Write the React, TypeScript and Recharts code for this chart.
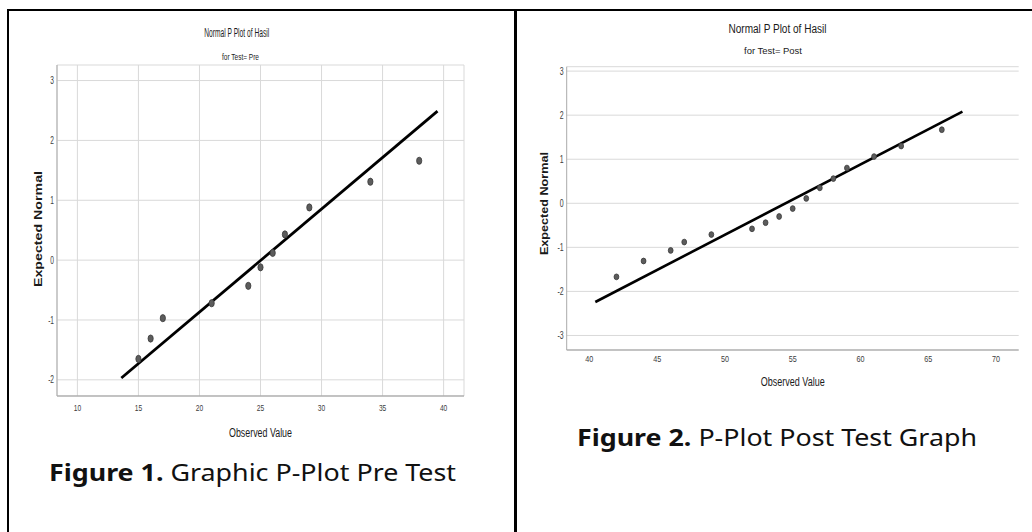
import React from 'react'
import {
  ScatterChart,
  Scatter,
  XAxis,
  YAxis,
  CartesianGrid,
  ReferenceLine,
} from 'recharts'

// pre test: observed value vs expected normal
const preObserved = [15, 16, 17, 21, 24, 25, 26, 27, 29, 34, 38]
const preExpected = [-1.65, -1.31, -0.97, -0.72, -0.43, -0.12, 0.12, 0.43, 0.88, 1.31, 1.66]
const preLineX = [13.6, 39.5]
const preLineY = [-1.97, 2.49]
const preXTicks = [10, 15, 20, 25, 30, 35, 40]
const preYTicks = [-2, -1, 0, 1, 2, 3]

// post test
const postObserved = [42, 44, 46, 47, 49, 52, 53, 54, 55, 56, 57, 58, 59, 61, 63, 66]
const postExpected = [-1.67, -1.31, -1.07, -0.88, -0.71, -0.58, -0.44, -0.3, -0.12, 0.11, 0.35, 0.56, 0.8, 1.06, 1.3, 1.67]
const postLineX = [40.44, 67.52]
const postLineY = [-2.24, 2.08]
const postXTicks = [40, 45, 50, 55, 60, 65, 70]
const postYTicks = [-3, -2, -1, 0, 1, 2, 3]

const NARROW = '"Liberation Sans Narrow", "Liberation Sans", Arial, sans-serif'
const SANS = '"Liberation Sans", Arial, sans-serif'

function XTick({ x, y, payload, size, sx, dy }: any) {
  return (
    <text
      transform={`translate(${x},${y + dy}) scale(${sx},1)`}
      textAnchor="middle"
      dominantBaseline="central"
      fontFamily={NARROW}
      fontSize={size}
      fill="#3c3c3c"
    >
      {payload.value}
    </text>
  )
}

function YTick({ x, y, payload, size, sx }: any) {
  return (
    <text
      transform={`translate(${x - 3},${y}) scale(${sx},1)`}
      textAnchor="end"
      dominantBaseline="central"
      fontFamily={NARROW}
      fontSize={size}
      fill="#3c3c3c"
    >
      {payload.value}
    </text>
  )
}

function XTitle({ viewBox, text, dy, len }: any) {
  const { x, y, width } = viewBox
  return (
    <text
      x={x + width / 2}
      y={y + dy}
      textAnchor="middle"
      dominantBaseline="central"
      textLength={len}
      lengthAdjust="spacingAndGlyphs"
      fontFamily={SANS}
      fontSize={12}
      fill="#1a1a1a"
    >
      {text}
    </text>
  )
}

function YTitle({ viewBox, text, dx, dy, len }: any) {
  const { x, y, width, height } = viewBox
  const cx = x + width + dx
  const cy = y + height / 2 + dy
  return (
    <text
      transform={`translate(${cx},${cy}) rotate(-90)`}
      textAnchor="middle"
      dominantBaseline="central"
      textLength={len}
      lengthAdjust="spacingAndGlyphs"
      fontFamily={SANS}
      fontWeight="bold"
      fontSize={11.5}
      fill="#1a1a1a"
    >
      {text}
    </text>
  )
}

function Dot({ cx, cy, rx, ry }: any) {
  return <ellipse cx={cx} cy={cy} rx={rx} ry={ry} fill="#5c5c5c" stroke="#3a3a3a" strokeWidth={0.8} />
}

function FitText({ x, y, len, size, children }: any) {
  return (
    <text
      x={x}
      y={y}
      textAnchor="middle"
      dominantBaseline="central"
      textLength={len}
      lengthAdjust="spacingAndGlyphs"
      fontFamily={SANS}
      fontSize={size}
      fill="#1a1a1a"
    >
      {children}
    </text>
  )
}

function Caption({ x, y, len, bold, rest }: any) {
  return (
    <text
      x={x}
      y={y}
      textLength={len}
      lengthAdjust="spacingAndGlyphs"
      fontFamily='"Noto Sans", sans-serif'
      fontSize={23}
      fill="#111"
    >
      <tspan fontWeight="bold">{bold}</tspan>
      <tspan> {rest}</tspan>
    </text>
  )
}

const line = (left: number, top: number, width: number, height: number) => (
  <div style={{ position: 'absolute', left, top, width, height, background: '#000', zIndex: 2 }} />
)

export default function App() {
  const preData = preObserved.map((v, i) => ({ x: v, y: preExpected[i] }))
  const postData = postObserved.map((v, i) => ({ x: v, y: postExpected[i] }))

  return (
    <div
      style={{
        position: 'absolute',
        left: 0,
        top: 0,
        width: 1032,
        height: 532,
        background: '#fff',
        overflow: 'hidden',
      }}
    >
      {/* Pre */}
      <div style={{ position: 'absolute', left: 0, top: 0 }}>
        <ScatterChart width={516} height={460} margin={{ top: 65, right: 52, bottom: 34, left: 27 }}>
          <CartesianGrid stroke="#d9d9d9" />
          <XAxis
            type="number"
            dataKey="x"
            domain={[8.33, 41.67]}
            ticks={preXTicks}
            allowDataOverflow
            height={30}
            tickSize={0}
            tickMargin={0}
            axisLine={{ stroke: '#999' }}
            tickLine={false}
            tick={<XTick size={9.5} sx={0.7} dy={12} />}
            label={<XTitle text="Observed Value" dy={37} len={63} />}
          />
          <YAxis
            type="number"
            dataKey="y"
            domain={[-2.27, 3.26]}
            ticks={preYTicks}
            allowDataOverflow
            width={30}
            tickSize={0}
            tickMargin={0}
            axisLine={{ stroke: '#aaa' }}
            tickLine={false}
            tick={<YTick size={11} sx={0.6} />}
            label={<YTitle text="Expected Normal" dx={-19} dy={-1.5} len={116} />}
          />
          <Scatter data={preData} isAnimationActive={false} shape={<Dot rx={2.6} ry={3.6} />} />
          <ReferenceLine
            segment={[
              { x: preLineX[0], y: preLineY[0] },
              { x: preLineX[1], y: preLineY[1] },
            ]}
            stroke="#000"
            strokeWidth={2.8}
          />
        </ScatterChart>
      </div>

      {/* Post */}
      <div style={{ position: 'absolute', left: 516, top: 0 }}>
        <ScatterChart width={516} height={420} margin={{ top: 66.7, right: 13.3, bottom: 40, left: 20.7 }}>
          <CartesianGrid stroke="#d9d9d9" vertical={false} />
          <XAxis
            type="number"
            dataKey="x"
            domain={[38.33, 71.67]}
            ticks={postXTicks}
            allowDataOverflow
            height={30}
            tickSize={0}
            tickMargin={0}
            axisLine={{ stroke: '#999' }}
            tickLine={false}
            tick={<XTick size={9} sx={0.8} dy={9.5} />}
            label={<XTitle text="Observed Value" dy={32} len={64} />}
          />
          <YAxis
            type="number"
            dataKey="y"
            domain={[-3.33, 3.1]}
            ticks={postYTicks}
            allowDataOverflow
            width={30}
            tickSize={0}
            tickMargin={0}
            axisLine={{ stroke: '#aaa' }}
            tickLine={false}
            tick={<YTick size={10} sx={0.7} />}
            label={<YTitle text="Expected Normal" dx={-22.4} dy={-4.8} len={103} />}
          />
          <Scatter data={postData} isAnimationActive={false} shape={<Dot rx={2.4} ry={2.9} />} />
          <ReferenceLine
            segment={[
              { x: postLineX[0], y: postLineY[0] },
              { x: postLineX[1], y: postLineY[1] },
            ]}
            stroke="#000"
            strokeWidth={2.6}
          />
        </ScatterChart>
      </div>

      {/* chart titles and captions */}
      <svg width={1032} height={532} style={{ position: 'absolute', left: 0, top: 0, pointerEvents: 'none' }}>
        <FitText x={236.7} y={32.7} len={65} size={12}>Normal P Plot of Hasil</FitText>
        <FitText x={240.5} y={56} len={37} size={9.5}>for Test= Pre</FitText>
        <FitText x={777.5} y={29} len={98} size={12}>Normal P Plot of Hasil</FitText>
        <FitText x={773} y={50.5} len={58} size={9.5}>for Test= Post</FitText>
        <Caption x={49} y={481} len={407} bold="Figure 1." rest="Graphic P-Plot Pre Test" />
        <Caption x={577} y={445.5} len={400} bold="Figure 2." rest="P-Plot Post Test Graph" />
      </svg>

      {/* frame */}
      {line(7, 9, 1025, 2)}
      {line(7, 9, 2, 523)}
      {line(514, 9, 3, 523)}
    </div>
  )
}
